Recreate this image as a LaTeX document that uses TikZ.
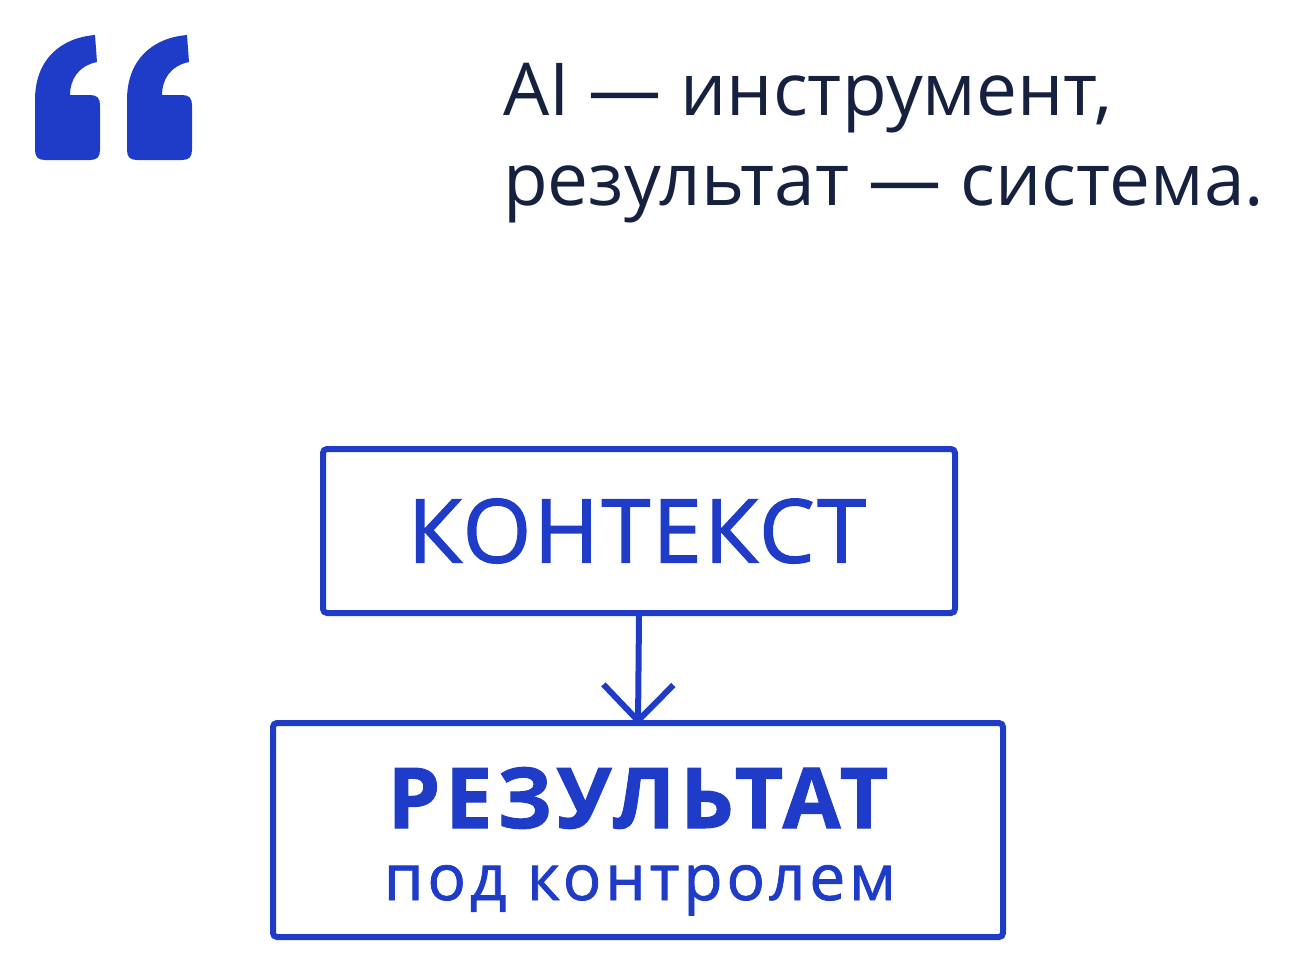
\documentclass[tikz,border=0pt]{standalone}
\usepackage{fontspec}
\setmainfont{Open Sans}
\newfontfamily\hd{Open Sans}
\newfontfamily\bx[LetterSpace=6,FakeBold=1.2]{Open Sans}
\newfontfamily\bxk[LetterSpace=3,FakeBold=1.6]{Open Sans}
\usetikzlibrary{arrows.meta}
\definecolor{bl}{HTML}{1F3CC8}
\definecolor{nv}{HTML}{16213F}
\begin{document}
\begin{tikzpicture}[x=1pt,y=-1pt,
  boxst/.style={draw=bl,line width=6pt,rounded corners=4pt}]
\useasboundingbox (0,0) rectangle (1304,977);
% quotes
\foreach \dx in {0,92}{
\fill[bl,shift={(\dx,0)}] (35,150) -- (35,100) .. controls (35,60) and (60,38) .. (95,35)
  -- (97,62) .. controls (78,66) and (70,80) .. (70,95) -- (90,95)
  .. controls (97,95) and (100,98) .. (100,105) -- (100,150)
  .. controls (100,157) and (97,160) .. (90,160) -- (45,160)
  .. controls (38,160) and (35,157) .. (35,150) -- cycle;
}
\node[anchor=base west,inner sep=0,text=nv,font=\hd\fontsize{73}{86}\selectfont] (t1) at (503,115) {AI — инструмент,};
\node[anchor=base west,inner sep=0,text=nv,font=\hd\fontsize{73}{86}\selectfont] (t2) at (503,205) {результат — система.};
\node[boxst,minimum width=632pt,minimum height=164pt] (b1) at (639,531) {};
\node[text=bl,font=\bxk\fontsize{88}{100}\selectfont] (k) at (637,531) {КОНТЕКСТ};
\node[boxst,minimum width=730pt,minimum height=214pt] (b2) at (638,830) {};
\node[anchor=base,inner sep=0,text=bl,font=\bx\bfseries\fontsize{84}{96}\selectfont] (r) at (638,828) {РЕЗУЛЬТАТ};
\node[anchor=base,inner sep=0,text=bl,font=\bx\fontsize{64}{76}\selectfont] (p) at (640,900) {под контролем};
\draw[bl,line width=6pt,-{Straight Barb[length=36pt,width=70pt,line width=6pt]}] (b1.south) -- ([yshift=-5pt]b2.north);
\end{tikzpicture}
\end{document}
